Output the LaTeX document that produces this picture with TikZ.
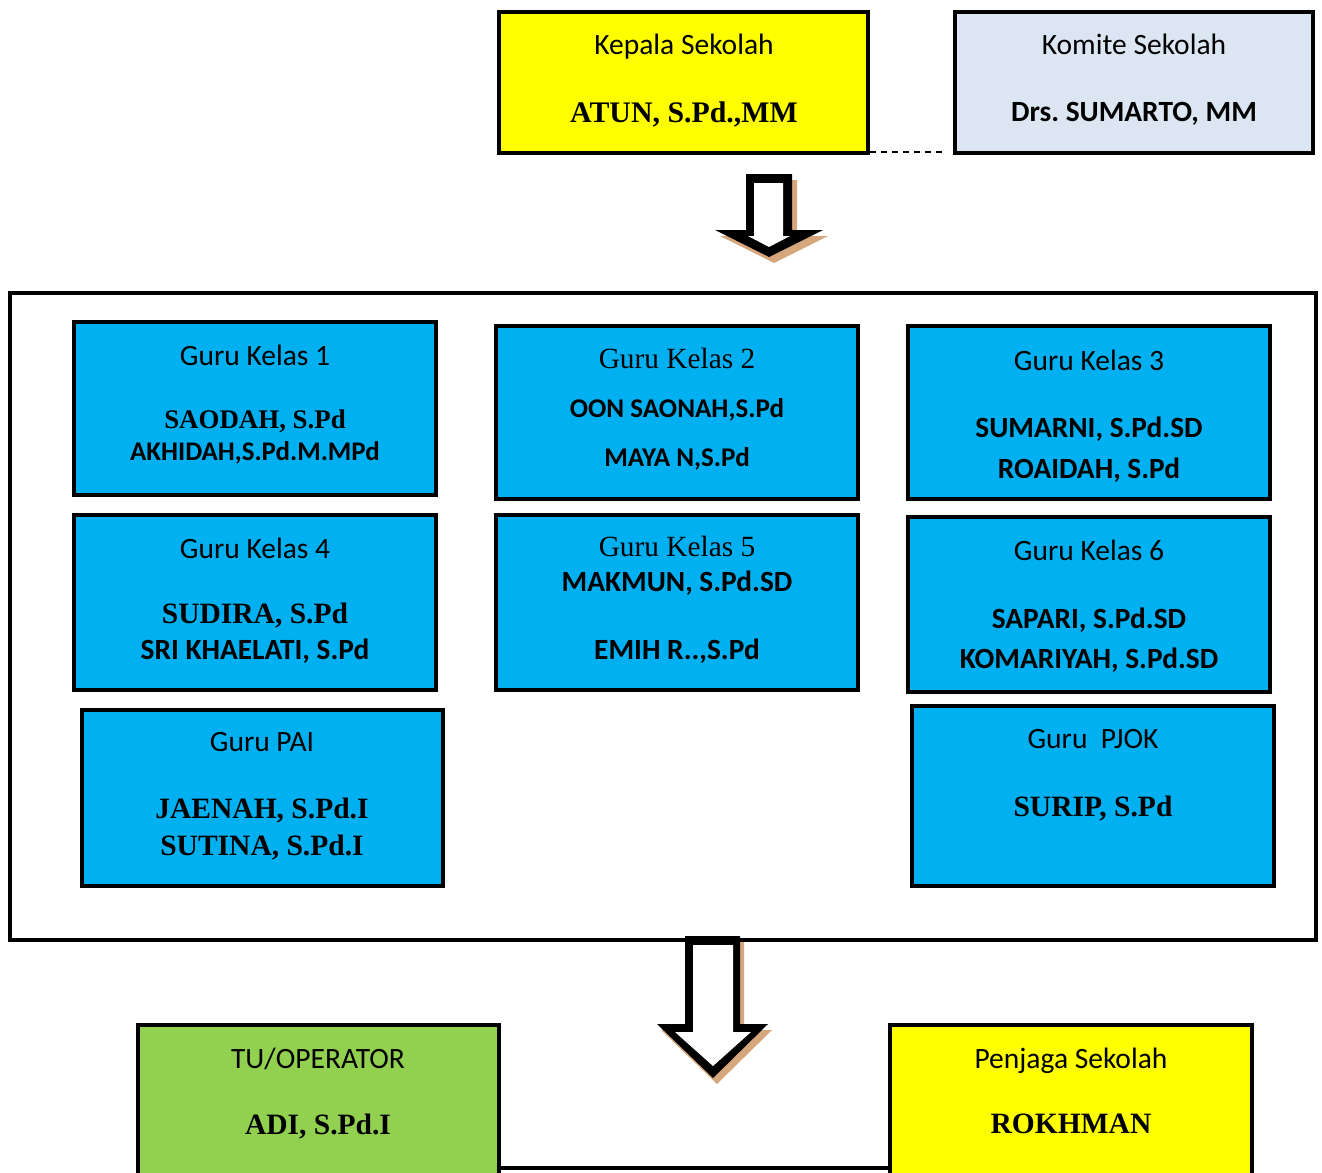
\documentclass[tikz,border=0pt]{standalone}
\usepackage{fontspec}
\setmainfont{Liberation Serif}
\setsansfont{Carlito}
\usepackage{tikz}
\usetikzlibrary{fit}
\frenchspacing
\definecolor{kepalayellow}{RGB}{255,255,0}
\definecolor{komitegray}{RGB}{220,230,242}
\definecolor{gurublue}{RGB}{0,176,240}
\definecolor{tugreen}{RGB}{146,208,80}
\definecolor{shadowtan}{RGB}{214,166,124}
\tikzset{
  box/.style={draw,line width=0.09cm,inner sep=0pt},
  title/.style={font=\sffamily\fontsize{16.8}{19}\selectfont,inner sep=0pt,text depth=0pt},
  rtitle/.style={font=\rmfamily\fontsize{16.7}{19}\selectfont,inner sep=0pt,text depth=0pt},
  sname/.style={font=\sffamily\bfseries\fontsize{16.7}{19}\selectfont,inner sep=0pt,text depth=0pt},
  smallsname/.style={font=\sffamily\bfseries\fontsize{15.4}{18}\selectfont,inner sep=0pt,text depth=0pt},
  rname/.style={font=\rmfamily\bfseries\fontsize{16.8}{19}\selectfont,inner sep=0pt,text depth=0pt},
  arrowshadow/.style={fill=shadowtan},
  arrowouter/.style={fill=black},
  arrowinner/.style={fill=white}
}

\begin{document}
\begin{tikzpicture}[x=0.02cm,y=-0.02cm]
  \useasboundingbox (0,0) rectangle (1322,1173);
  \clip (0,0) rectangle (1322,1173);

  % kepala sekolah dan komite
  \node[box,fill=kepalayellow,fit={(499,12) (868,153)}] (kepala) {};
  \node[title] (kepalat) at (684,44) {Kepala Sekolah};
  \node[rname,font=\rmfamily\bfseries\fontsize{17}{19}\selectfont] (kepalan) at (684,112) {ATUN, S.Pd.,MM};
  \node[box,fill=komitegray,fit={(955,12) (1313,153)}] (komite) {};
  \node[title] (komitet) at (1134,44) {Komite Sekolah};
  \node[sname] (komiten) at (1134,112) {Drs. SUMARTO, MM};
  \coordinate (kepalagap) at (870,152);
  \coordinate (komitegap) at (942,152);
  \draw[line width=0.03cm,dash pattern=on 0.12cm off 0.1cm] (kepalagap) -- (komitegap);

  % panah ke guru
  \fill[arrowshadow,shift={(5,6)}] (746,174) -- (792,174) -- (792,230) -- (823,230)
    -- (769,257) -- (715,230) -- (746,230) -- cycle;
  \fill[arrowouter] (746,174) -- (792,174) -- (792,230) -- (823,230)
    -- (769,257) -- (715,230) -- (746,230) -- cycle;
  \fill[arrowinner] (754,183) -- (783,183) -- (783,236) -- (790,236)
    -- (769,247) -- (748,236) -- (754,236) -- cycle;

  % kotak guru
  \node[box,line width=0.08cm,fit={(10,293) (1316,940)}] (gurubox) {};

  \node[box,fill=gurublue,fit={(74,322) (436,495)}] (gk1) {};
  \node[title] (gk1t) at (255,355) {Guru Kelas 1};
  \node[rname,font=\rmfamily\bfseries\fontsize{15.3}{18}\selectfont] (gk1a) at (255,419) {SAODAH, S.Pd};
  \node[smallsname,font=\sffamily\bfseries\fontsize{15.3}{18}\selectfont] (gk1b) at (255,451) {AKHIDAH,S.Pd.M.MPd};

  \node[box,fill=gurublue,fit={(496,326) (858,499)}] (gk2) {};
  \node[rtitle] (gk2t) at (677,358) {Guru Kelas 2};
  \node[smallsname] (gk2a) at (677,408) {OON SAONAH,S.Pd};
  \node[smallsname] (gk2b) at (677,457) {MAYA N,S.Pd};

  \node[box,fill=gurublue,fit={(908,326) (1270,499)}] (gk3) {};
  \node[title] (gk3t) at (1089,360) {Guru Kelas 3};
  \node[sname] (gk3a) at (1089,427) {SUMARNI, S.Pd.SD};
  \node[sname] (gk3b) at (1089,468) {ROAIDAH, S.Pd};

  \node[box,fill=gurublue,fit={(74,515) (436,690)}] (gk4) {};
  \node[title] (gk4t) at (255,548) {Guru Kelas 4};
  \node[rname] (gk4a) at (255,613) {SUDIRA, S.Pd};
  \node[sname] (gk4b) at (255,649) {SRI KHAELATI, S.Pd};

  \node[box,fill=gurublue,fit={(496,515) (858,690)}] (gk5) {};
  \node[rtitle] (gk5t) at (677,546) {Guru Kelas 5};
  \node[sname] (gk5a) at (677,581) {MAKMUN, S.Pd.SD};
  \node[sname] (gk5b) at (677,649) {EMIH R..,S.Pd};

  \node[box,fill=gurublue,fit={(908,517) (1270,692)}] (gk6) {};
  \node[title] (gk6t) at (1089,550) {Guru Kelas 6};
  \node[sname] (gk6a) at (1089,618) {SAPARI, S.Pd.SD};
  \node[sname] (gk6b) at (1089,658) {KOMARIYAH, S.Pd.SD};

  \node[box,fill=gurublue,fit={(82,710) (443,886)}] (pai) {};
  \node[title] (pait) at (262,742) {Guru PAI};
  \node[rname] (paia) at (262,808) {JAENAH, S.Pd.I};
  \node[rname] (paib) at (262,845) {SUTINA, S.Pd.I};

  \node[box,fill=gurublue,fit={(912,706) (1274,886)}] (pjok) {};
  \node[title] (pjokt) at (1093,739) {Guru~ PJOK};
  \node[rname] (pjoka) at (1093,806) {SURIP, S.Pd};

  % panah ke TU dan penjaga
  \fill[arrowshadow,shift={(4,6)}] (685,936) -- (740,936) -- (740,1024) -- (768,1024)
    -- (713,1078) -- (657,1024) -- (685,1024) -- cycle;
  \fill[arrowouter] (685,936) -- (740,936) -- (740,1024) -- (768,1024)
    -- (713,1078) -- (657,1024) -- (685,1024) -- cycle;
  \fill[arrowinner] (693,945) -- (733,945) -- (733,1032) -- (751,1032)
    -- (713,1066) -- (675,1032) -- (693,1032) -- cycle;

  % TU dan penjaga
  \node[box,fill=tugreen,fit={(138,1025) (499,1210)}] (tu) {};
  \node[title] (tut) at (318,1058) {TU/OPERATOR};
  \node[rname] (tun) at (318,1124) {ADI, S.Pd.I};
  \node[box,fill=kepalayellow,fit={(890,1025) (1252,1210)}] (penjaga) {};
  \node[title] (penjagat) at (1071,1058) {Penjaga Sekolah};
  \node[rname] (penjagan) at (1071,1124) {ROKHMAN};
  \coordinate (tulow) at (499,1168);
  \draw[line width=0.09cm] (tulow) -- (tulow -| penjaga.west);
\end{tikzpicture}
\end{document}
